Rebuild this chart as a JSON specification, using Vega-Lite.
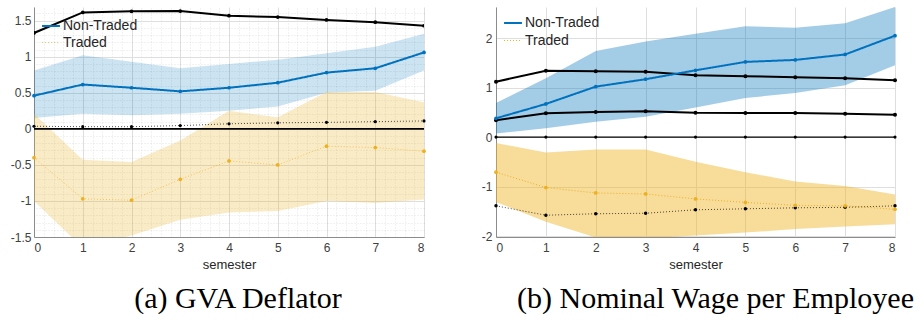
{
  "$schema": "https://vega.github.io/schema/vega-lite/v6.json",
  "padding": {"left": 10, "top": 7, "right": 2, "bottom": 0},
  "background": "white",
  "spacing": 53,
  "config": {
    "view": {"stroke": null},
    "axis": {
      "labelFont": "Liberation Sans", "labelFontSize": 12, "labelColor": "#404040",
      "domainColor": "#8c8c8c", "domainWidth": 1, "ticks": false,
      "gridColor": "#dedede", "gridWidth": 1,
      "titleFont": "Liberation Sans", "titleFontSize": 13, "titleFontWeight": "normal", "titleColor": "#262626"
    }
  },
  "resolve": {
    "scale": {"color": "independent", "strokeDash": "independent", "strokeWidth": "independent"},
    "legend": {"color": "independent", "strokeDash": "independent", "strokeWidth": "independent"}
  },
  "datasets": {
    "a": [
      {"s": "Non-Traded", "x": 0, "y": 0.46, "lo": 0.15, "hi": 0.81},
      {"s": "Non-Traded", "x": 1, "y": 0.615, "lo": 0.21, "hi": 1.02},
      {"s": "Non-Traded", "x": 2, "y": 0.57, "lo": 0.19, "hi": 0.93},
      {"s": "Non-Traded", "x": 3, "y": 0.52, "lo": 0.21, "hi": 0.84},
      {"s": "Non-Traded", "x": 4, "y": 0.57, "lo": 0.25, "hi": 0.90},
      {"s": "Non-Traded", "x": 5, "y": 0.64, "lo": 0.31, "hi": 0.96},
      {"s": "Non-Traded", "x": 6, "y": 0.78, "lo": 0.50, "hi": 1.05},
      {"s": "Non-Traded", "x": 7, "y": 0.84, "lo": 0.53, "hi": 1.14},
      {"s": "Non-Traded", "x": 8, "y": 1.06, "lo": 0.81, "hi": 1.32},
      {"s": "Traded", "x": 0, "y": -0.40, "lo": -1.0, "hi": 0.21},
      {"s": "Traded", "x": 1, "y": -0.97, "lo": -1.65, "hi": -0.43},
      {"s": "Traded", "x": 2, "y": -0.99, "lo": -1.48, "hi": -0.46},
      {"s": "Traded", "x": 3, "y": -0.70, "lo": -1.26, "hi": -0.16},
      {"s": "Traded", "x": 4, "y": -0.445, "lo": -1.16, "hi": 0.25},
      {"s": "Traded", "x": 5, "y": -0.50, "lo": -1.14, "hi": 0.16},
      {"s": "Traded", "x": 6, "y": -0.24, "lo": -1.0, "hi": 0.51},
      {"s": "Traded", "x": 7, "y": -0.26, "lo": -1.03, "hi": 0.51},
      {"s": "Traded", "x": 8, "y": -0.31, "lo": -0.98, "hi": 0.37},
      {"s": "NT bench", "x": 0, "y": 1.33},
      {"s": "NT bench", "x": 1, "y": 1.615},
      {"s": "NT bench", "x": 2, "y": 1.63},
      {"s": "NT bench", "x": 3, "y": 1.633},
      {"s": "NT bench", "x": 4, "y": 1.57},
      {"s": "NT bench", "x": 5, "y": 1.55},
      {"s": "NT bench", "x": 6, "y": 1.51},
      {"s": "NT bench", "x": 7, "y": 1.48},
      {"s": "NT bench", "x": 8, "y": 1.43},
      {"s": "T bench", "x": 0, "y": 0.036},
      {"s": "T bench", "x": 1, "y": 0.03},
      {"s": "T bench", "x": 2, "y": 0.03},
      {"s": "T bench", "x": 3, "y": 0.045},
      {"s": "T bench", "x": 4, "y": 0.07},
      {"s": "T bench", "x": 5, "y": 0.083},
      {"s": "T bench", "x": 6, "y": 0.09},
      {"s": "T bench", "x": 7, "y": 0.10},
      {"s": "T bench", "x": 8, "y": 0.11},
      {"s": "zero", "x": 0, "y": 0},
      {"s": "zero", "x": 8, "y": 0}
    ],
    "b": [
      {"s": "Non-Traded", "x": 0, "y": 0.38, "lo": 0.07, "hi": 0.69},
      {"s": "Non-Traded", "x": 1, "y": 0.67, "lo": 0.18, "hi": 1.19},
      {"s": "Non-Traded", "x": 2, "y": 1.02, "lo": 0.31, "hi": 1.74},
      {"s": "Non-Traded", "x": 3, "y": 1.17, "lo": 0.41, "hi": 1.93},
      {"s": "Non-Traded", "x": 4, "y": 1.35, "lo": 0.60, "hi": 2.09},
      {"s": "Non-Traded", "x": 5, "y": 1.52, "lo": 0.79, "hi": 2.24},
      {"s": "Non-Traded", "x": 6, "y": 1.56, "lo": 0.89, "hi": 2.21},
      {"s": "Non-Traded", "x": 7, "y": 1.67, "lo": 1.05, "hi": 2.30},
      {"s": "Non-Traded", "x": 8, "y": 2.05, "lo": 1.45, "hi": 2.63},
      {"s": "Traded", "x": 0, "y": -0.71, "lo": -1.31, "hi": -0.12},
      {"s": "Traded", "x": 1, "y": -1.02, "lo": -1.71, "hi": -0.31},
      {"s": "Traded", "x": 2, "y": -1.13, "lo": -2.03, "hi": -0.25},
      {"s": "Traded", "x": 3, "y": -1.15, "lo": -2.05, "hi": -0.25},
      {"s": "Traded", "x": 4, "y": -1.25, "lo": -1.99, "hi": -0.50},
      {"s": "Traded", "x": 5, "y": -1.32, "lo": -1.93, "hi": -0.71},
      {"s": "Traded", "x": 6, "y": -1.38, "lo": -1.86, "hi": -0.90},
      {"s": "Traded", "x": 7, "y": -1.39, "lo": -1.81, "hi": -0.99},
      {"s": "Traded", "x": 8, "y": -1.46, "lo": -1.76, "hi": -1.16},
      {"s": "bench 1", "x": 0, "y": 1.12},
      {"s": "bench 1", "x": 1, "y": 1.34},
      {"s": "bench 1", "x": 2, "y": 1.33},
      {"s": "bench 1", "x": 3, "y": 1.32},
      {"s": "bench 1", "x": 4, "y": 1.25},
      {"s": "bench 1", "x": 5, "y": 1.23},
      {"s": "bench 1", "x": 6, "y": 1.21},
      {"s": "bench 1", "x": 7, "y": 1.19},
      {"s": "bench 1", "x": 8, "y": 1.15},
      {"s": "bench 2", "x": 0, "y": 0.34},
      {"s": "bench 2", "x": 1, "y": 0.48},
      {"s": "bench 2", "x": 2, "y": 0.505},
      {"s": "bench 2", "x": 3, "y": 0.52},
      {"s": "bench 2", "x": 4, "y": 0.49},
      {"s": "bench 2", "x": 5, "y": 0.485},
      {"s": "bench 2", "x": 6, "y": 0.485},
      {"s": "bench 2", "x": 7, "y": 0.47},
      {"s": "bench 2", "x": 8, "y": 0.45},
      {"s": "zero", "x": 0, "y": 0},
      {"s": "zero", "x": 1, "y": 0},
      {"s": "zero", "x": 2, "y": 0},
      {"s": "zero", "x": 3, "y": 0},
      {"s": "zero", "x": 4, "y": 0},
      {"s": "zero", "x": 5, "y": 0},
      {"s": "zero", "x": 6, "y": 0},
      {"s": "zero", "x": 7, "y": 0},
      {"s": "zero", "x": 8, "y": 0},
      {"s": "T bench", "x": 0, "y": -1.39},
      {"s": "T bench", "x": 1, "y": -1.58},
      {"s": "T bench", "x": 2, "y": -1.55},
      {"s": "T bench", "x": 3, "y": -1.54},
      {"s": "T bench", "x": 4, "y": -1.47},
      {"s": "T bench", "x": 5, "y": -1.45},
      {"s": "T bench", "x": 6, "y": -1.43},
      {"s": "T bench", "x": 7, "y": -1.42},
      {"s": "T bench", "x": 8, "y": -1.39}
    ]
  },
  "hconcat": [
    {
      "width": 390,
      "height": 230,
      "data": {"name": "a"},
      "title": {"text": "(a) GVA Deflator", "orient": "bottom", "anchor": "middle", "frame": "group", "dx": 9, "offset": 13, "font": "Liberation Serif", "fontSize": 30, "fontWeight": "normal", "color": "#000000"},
      "resolve": {"axis": {"x": "independent", "y": "independent"}},
      "layer": [
        {
          "transform": [{"filter": "datum.s === 'Non-Traded'"}],
          "mark": {"type": "area", "color": "#0072BD", "opacity": 0.2, "clip": true},
          "encoding": {
            "x": {"field": "x", "type": "quantitative", "scale": {"domain": [0, 8], "nice": false},
              "axis": {"orient": "top", "values": [0,0.2,0.4,0.6,0.8,1,1.2,1.4,1.6,1.8,2,2.2,2.4,2.6,2.8,3,3.2,3.4,3.6,3.8,4,4.2,4.4,4.6,4.8,5,5.2,5.4,5.6,5.8,6,6.2,6.4,6.6,6.8,7,7.2,7.4,7.6,7.8,8], "grid": true, "gridColor": "#000000", "gridOpacity": 0.1, "gridDash": [1, 2], "labels": false, "ticks": false, "domain": false, "title": null}},
            "y": {"field": "lo", "type": "quantitative", "scale": {"domain": [-1.5, 1.69], "nice": false, "zero": false},
              "axis": {"orient": "right", "values": [-1.5,-1.4,-1.3,-1.2,-1.1,-1,-0.9,-0.8,-0.7,-0.6,-0.5,-0.4,-0.3,-0.2,-0.1,0,0.1,0.2,0.3,0.4,0.5,0.6,0.7,0.8,0.9,1,1.1,1.2,1.3,1.4,1.5,1.6], "grid": true, "gridColor": "#000000", "gridOpacity": 0.1, "gridDash": [1, 2], "labels": false, "ticks": false, "domain": false, "title": null}},
            "y2": {"field": "hi"}
          }
        },
        {
          "transform": [{"filter": "datum.s === 'Traded'"}],
          "mark": {"type": "area", "color": "#EDB120", "opacity": 0.25, "clip": true},
          "encoding": {
            "x": {"field": "x", "type": "quantitative", "axis": null},
            "y": {"field": "lo", "type": "quantitative", "axis": null},
            "y2": {"field": "hi"}
          }
        },
        {
          "transform": [{"filter": "datum.s === 'NT bench'"}],
          "mark": {"type": "line", "color": "#000000", "strokeWidth": 2, "clip": true, "point": {"filled": true, "size": 14, "color": "#000000"}},
          "encoding": {
            "x": {"field": "x", "type": "quantitative", "axis": null},
            "y": {"field": "y", "type": "quantitative", "axis": null}
          }
        },
        {
          "transform": [{"filter": "datum.s === 'T bench'"}],
          "mark": {"type": "line", "color": "#000000", "strokeWidth": 0.7, "strokeDash": [1, 2], "point": {"filled": true, "size": 10, "color": "#000000"}},
          "encoding": {
            "x": {"field": "x", "type": "quantitative", "axis": null},
            "y": {"field": "y", "type": "quantitative", "axis": null}
          }
        },
        {
          "transform": [{"filter": "datum.s === 'zero'"}],
          "mark": {"type": "line", "color": "#000000", "strokeWidth": 1.6},
          "encoding": {
            "x": {"field": "x", "type": "quantitative", "axis": null},
            "y": {"field": "y", "type": "quantitative", "axis": null}
          }
        },
        {
          "transform": [{"filter": "datum.s === 'Non-Traded' || datum.s === 'Traded'"}],
          "mark": {"type": "line", "point": {"filled": true, "size": 14}},
          "encoding": {
            "x": {"field": "x", "type": "quantitative",
              "axis": {"orient": "bottom", "values": [0,1,2,3,4,5,6,7,8], "grid": true, "title": "semester", "labelPadding": 5, "titlePadding": 5}},
            "y": {"field": "y", "type": "quantitative",
              "axis": {"orient": "left", "values": [-1.5,-1,-0.5,0,0.5,1,1.5], "grid": true, "title": null, "labelPadding": 3, "labelExpr": "toString(datum.value)"}},
            "color": {"field": "s", "type": "nominal", "title": null,
              "scale": {"domain": ["Non-Traded", "Traded"], "range": ["#0072BD", "#EDB120"]},
              "legend": {"orient": "none", "legendX": 7, "legendY": 9, "title": null, "symbolType": "stroke", "symbolSize": 320, "symbolStrokeWidth": 2, "labelFontSize": 14, "labelFont": "Liberation Sans", "labelColor": "#262626", "labelOffset": 2, "rowPadding": 0, "padding": 0}},
            "strokeDash": {"field": "s", "type": "nominal", "title": null,
              "scale": {"domain": ["Non-Traded", "Traded"], "range": [[1, 0], [1, 2]]}},
            "strokeWidth": {"field": "s", "type": "nominal", "title": null,
              "scale": {"domain": ["Non-Traded", "Traded"], "range": [2, 0.7]}}
          }
        }
      ]
    },
    {
      "width": 399,
      "height": 230,
      "data": {"name": "b"},
      "title": {"text": "(b) Nominal Wage per Employee", "orient": "bottom", "anchor": "middle", "frame": "group", "dx": 20, "offset": 13, "font": "Liberation Serif", "fontSize": 30, "fontWeight": "normal", "color": "#000000"},
      "layer": [
        {
          "transform": [{"filter": "datum.s === 'Non-Traded'"}],
          "mark": {"type": "area", "color": "#0072BD", "opacity": 0.36, "clip": true},
          "encoding": {
            "x": {"field": "x", "type": "quantitative", "scale": {"domain": [0, 8], "nice": false},
              "axis": {"values": [0,1,2,3,4,5,6,7,8], "grid": true, "title": "semester", "labelPadding": 5, "titlePadding": 5}},
            "y": {"field": "lo", "type": "quantitative", "scale": {"domain": [-2.02, 2.63], "nice": false, "zero": false},
              "axis": {"values": [-2,-1,0,1,2], "grid": true, "title": null, "labelPadding": 4, "labelExpr": "toString(datum.value)"}},
            "y2": {"field": "hi"}
          }
        },
        {
          "transform": [{"filter": "datum.s === 'Traded'"}],
          "mark": {"type": "area", "color": "#EDB120", "opacity": 0.45, "clip": true},
          "encoding": {
            "x": {"field": "x", "type": "quantitative"},
            "y": {"field": "lo", "type": "quantitative"},
            "y2": {"field": "hi"}
          }
        },
        {
          "transform": [{"filter": "datum.s === 'bench 1' || datum.s === 'bench 2'"}],
          "mark": {"type": "line", "color": "#000000", "strokeWidth": 2, "point": {"filled": true, "size": 16, "color": "#000000"}},
          "encoding": {
            "x": {"field": "x", "type": "quantitative"},
            "y": {"field": "y", "type": "quantitative"},
            "detail": {"field": "s"}
          }
        },
        {
          "transform": [{"filter": "datum.s === 'zero'"}],
          "mark": {"type": "line", "color": "#000000", "strokeWidth": 1.2, "point": {"filled": true, "size": 10, "color": "#000000"}},
          "encoding": {
            "x": {"field": "x", "type": "quantitative"},
            "y": {"field": "y", "type": "quantitative"}
          }
        },
        {
          "transform": [{"filter": "datum.s === 'T bench'"}],
          "mark": {"type": "line", "color": "#000000", "strokeWidth": 0.7, "strokeDash": [1, 2], "point": {"filled": true, "size": 12, "color": "#000000"}},
          "encoding": {
            "x": {"field": "x", "type": "quantitative"},
            "y": {"field": "y", "type": "quantitative"}
          }
        },
        {
          "transform": [{"filter": "datum.s === 'Non-Traded' || datum.s === 'Traded'"}],
          "mark": {"type": "line", "point": {"filled": true, "size": 14}},
          "encoding": {
            "x": {"field": "x", "type": "quantitative"},
            "y": {"field": "y", "type": "quantitative"},
            "color": {"field": "s", "type": "nominal", "title": null,
              "scale": {"domain": ["Non-Traded", "Traded"], "range": ["#0072BD", "#EDB120"]},
              "legend": {"orient": "none", "legendX": 7, "legendY": 6, "title": null, "symbolType": "stroke", "symbolSize": 320, "symbolStrokeWidth": 2, "labelFontSize": 14, "labelFont": "Liberation Sans", "labelColor": "#262626", "labelOffset": 2, "rowPadding": 1, "padding": 0}},
            "strokeDash": {"field": "s", "type": "nominal", "title": null,
              "scale": {"domain": ["Non-Traded", "Traded"], "range": [[1, 0], [1, 2]]}},
            "strokeWidth": {"field": "s", "type": "nominal", "title": null,
              "scale": {"domain": ["Non-Traded", "Traded"], "range": [2, 1]}}
          }
        }
      ]
    }
  ]
}
